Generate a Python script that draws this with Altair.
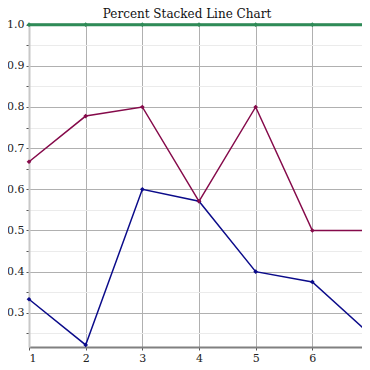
import altair as alt
import pandas as pd

x_vals = [1, 2, 3, 4, 5, 6, 7]
series_a = [0.333, 0.222, 0.6, 0.571, 0.4, 0.375, 0.25]
series_b = [0.667, 0.778, 0.8, 0.571, 0.8, 0.5, 0.5]
series_c = [1.0, 1.0, 1.0, 1.0, 1.0, 1.0, 1.0]
names = ["A", "B", "C"]
colors = ["#0b0b8a", "#850a4a", "#2e8b57"]
widths = [1.5, 1.5, 3]

x_ticks = [1 + 0.5 * i for i in range(13)]
y_ticks = [round(0.25 + 0.05 * i, 2) for i in range(16)]

rows = []
for n, s in zip(names, [series_a, series_b, series_c]):
    for xv, yv in zip(x_vals, s):
        rows.append({"x": xv, "y": yv, "s": n})
df = pd.DataFrame(rows)

FONT = "DejaVu Serif"

xscale = alt.Scale(domain=[1, 7], nice=False, zero=False)
yscale = alt.Scale(domain=[0.217, 1.004], nice=False, zero=False)

xaxis = alt.Axis(
    values=x_ticks,
    labelExpr="datum.value % 1 === 0 ? datum.label : ''",
    format="d",
    title=None,
    grid=True,
    gridColor={"condition": {"test": "datum.value % 1 === 0", "value": "#b0b0b0"}, "value": "#efe6ea"},
    gridWidth=1,
    domainColor="#808080",
    domainWidth=2,
    tickColor="#555",
    tickSize=3,
    labelFont=FONT,
    labelFontSize=11,
    labelColor="#222",
    labelPadding=2,
)
yaxis = alt.Axis(
    values=y_ticks,
    labelExpr="abs(round(datum.value*10) - datum.value*10) < 0.001 ? format(datum.value, '.1f') : ''",
    title=None,
    grid=True,
    gridColor={"condition": {"test": "abs(round(datum.value*10) - datum.value*10) < 0.001", "value": "#b0b0b0"}, "value": "#ebebeb"},
    gridWidth=1,
    domainColor="#c8c8c8",
    domainWidth=2,
    tickColor="#555",
    tickSize=3,
    labelFont=FONT,
    labelFontSize=11,
    labelColor="#222",
    labelPadding=2,
)

layers = []
for i, n in enumerate(names):
    layers.append(
        alt.Chart(df[df.s == n])
        .mark_line(
            color=colors[i],
            strokeWidth=widths[i],
            clip=False,
            point=alt.OverlayMarkDef(shape="diamond", size=22, filled=True, color=colors[i]),
        )
        .encode(
            x=alt.X("x:Q", scale=xscale, axis=xaxis),
            y=alt.Y("y:Q", scale=yscale, axis=yaxis),
        )
    )

chart = (
    alt.layer(*layers)
    .properties(
        width=340,
        height=324,
        title=alt.TitleParams(
            "Percent Stacked Line Chart",
            font=FONT,
            fontSize=12,
            fontWeight="normal",
            color="#111",
            dx=-12,
            dy=6,
            offset=4,
        ),
        autosize=alt.AutoSizeParams(type="none"),
        padding={"left": 21, "top": 15, "right": -7, "bottom": 22},
    )
    .configure_view(stroke="#808080", strokeWidth=2)
    .configure(background="white")
)

chart.save("out.html", embed_options={"renderer": "svg", "actions": False})
